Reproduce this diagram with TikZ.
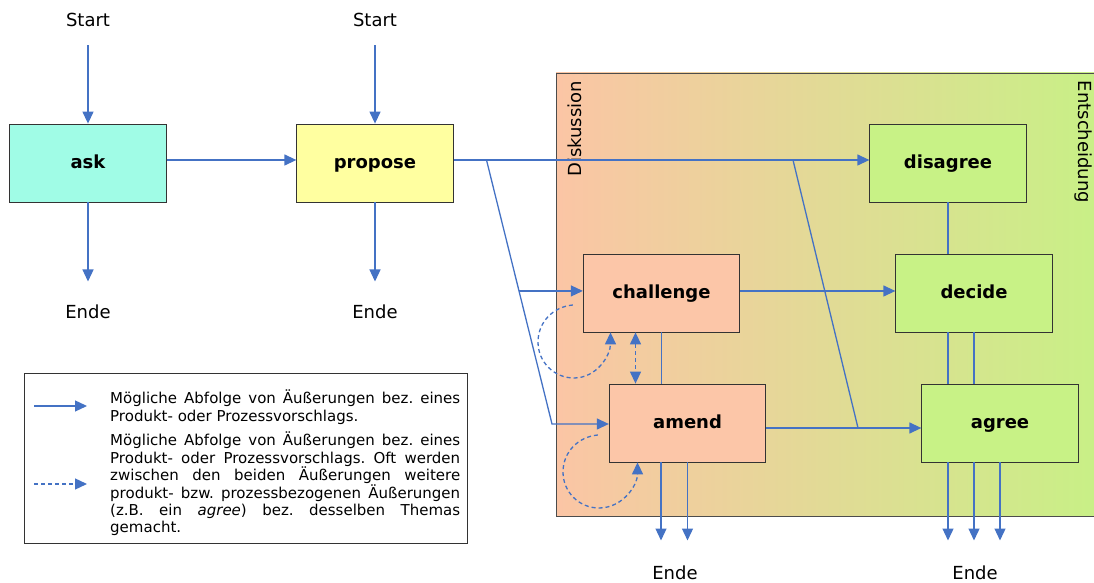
\documentclass[tikz,border=0pt]{standalone}
\usepackage{fontspec}
\setmainfont{DejaVu Sans}
\usetikzlibrary{arrows.meta,calc}
\definecolor{flowblue}{RGB}{68,114,196}
\definecolor{askfill}{RGB}{160,252,230}
\definecolor{propfill}{RGB}{255,255,160}
\definecolor{diskfill}{RGB}{252,198,168}
\definecolor{entsfill}{RGB}{200,242,134}
\definecolor{panelleft}{RGB}{251,197,165}
\definecolor{panelright}{RGB}{200,240,134}
\frenchspacing

\begin{document}
\begin{tikzpicture}[x=1pt,y=1pt,
  box/.style={draw=black!80, line width=0.8pt, minimum width=156.5pt, minimum height=78pt, inner sep=0pt, text height=13pt, text depth=1pt, font=\fontsize{18}{20}\selectfont\bfseries},
  lbl/.style={font=\fontsize{18}{20}\selectfont},
  legtxt/.style={text width=350pt, align=justify, inner sep=0pt, font=\fontsize{15}{17.4}\selectfont},
  flow/.style={draw=flowblue, line width=1.3pt, -{Triangle[length=12pt,width=11pt]}},
  link/.style={draw=flowblue, line width=1.3pt},
  dashflow/.style={flow, dash pattern=on 4pt off 3pt}]
\useasboundingbox (0,0) rectangle (1094,583);

\shade[left color=panelleft, right color=panelright] (556,67) rectangle (1100,510);
\draw[black!70, line width=0.8pt] (1100,67) -- (556,67) -- (556,510) -- (1100,510);
\node[lbl, rotate=90] (disk) at (575,454) {Diskussion};
\node[lbl, rotate=-90] (ents) at (1083,441) {Entscheidung};

\node[box, fill=askfill] (ask) at (88,420) {ask};
\node[box, fill=propfill] (propose) at (375,420) {propose};
\node[box, fill=entsfill] (disagree) at (948,420) {disagree};
\node[box, fill=diskfill] (challenge) at (661.5,290) {challenge};
\node[box, fill=entsfill] (decide) at (974,290) {decide};
\node[box, fill=diskfill] (amend) at (687.5,160) {amend};
\node[box, fill=entsfill] (agree) at (1000,160) {agree};

\node[lbl] (start1) at (88,563) {Start};
\node[lbl] (start2) at (375,563) {Start};
\node[lbl] (ende1) at (88,271) {Ende};
\node[lbl] (ende2) at (375,271) {Ende};
\node[lbl] (ende3) at (675,10) {Ende};
\node[lbl] (ende4) at (975,10) {Ende};
\coordinate (e3) at ([yshift=22pt]ende3.north);
\coordinate (e4) at ([yshift=22pt]ende4.north);

\draw[flow] ([yshift=-15pt]start1.south) -- (ask.north);
\draw[flow] ([yshift=-15pt]start2.south) -- (propose.north);
\draw[flow] (ask.south) -- ([yshift=20pt]ende1.north);
\draw[flow] (propose.south) -- ([yshift=20pt]ende2.north);

\coordinate (p1) at (486.5,423);
\coordinate (p2) at (552,159);
\coordinate (b1) at ($(p1)!0.496!(p2)$);
\coordinate (x1) at (793,423);
\coordinate (x2) at (858,155);
\draw[flow] ([yshift=3pt]ask.east) -- ([yshift=3pt]propose.west);
\draw[flow] ([yshift=3pt]propose.east) -- ([yshift=3pt]disagree.west);
\draw[flow] (p1) -- (p2) -- (amend.west |- p2);
\draw[flow] (b1) -- (challenge.west |- b1);
\draw[flow] ([yshift=2pt]challenge.east) -- ([yshift=2pt]decide.west);
\draw[flow] ([yshift=-5pt]amend.east) -- ([yshift=-5pt]agree.west);
\draw[link] (x1) -- (x2);

\draw[link] (disagree.south) -- (disagree.south |- decide.north);
\draw[link] ([xshift=-26pt]decide.south) -- ([xshift=-26pt]decide.south |- agree.north);
\draw[link] (decide.south) -- (decide.south |- agree.north);
\draw[link] (challenge.south) -- (challenge.south |- amend.north);
\draw[dashflow, {Triangle[length=12pt,width=11pt]}-{Triangle[length=12pt,width=11pt]}] ([xshift=-26pt]challenge.south) -- ([xshift=-26pt]challenge.south |- amend.north);

\draw[dashflow] ([xshift=-10pt,yshift=-12pt]challenge.west) to[out=185,in=90] (538,241) to[out=270,in=180] (574,205) to[out=0,in=-90] ([xshift=-51pt]challenge.south);
\draw[dashflow] ([xshift=-11pt,yshift=-12pt]amend.west) to[out=185,in=90] (563,111) to[out=270,in=180] (599,75) to[out=0,in=-90] ([xshift=-50pt]amend.south);

\draw[flow] ([xshift=-26.5pt]amend.south) -- ([xshift=-26.5pt]amend.south |- e3);
\draw[flow] (amend.south) -- (amend.south |- e3);
\draw[flow] ([xshift=-52pt]agree.south) -- ([xshift=-52pt]agree.south |- e4);
\draw[flow] ([xshift=-26pt]agree.south) -- ([xshift=-26pt]agree.south |- e4);
\draw[flow] (agree.south) -- (agree.south |- e4);

\node[draw=black!80, line width=0.8pt, minimum width=443pt, minimum height=170pt, inner sep=0pt] (legend) at (245.5,125) {};
\draw[flow] (34,177) -- (87,177);
\draw[dashflow] (34,99) -- (87,99);
\node[legtxt, anchor=north west] (leg1) at (110,193) {M\"ogliche Abfolge von \"Au\ss erungen bez. eines\linebreak Produkt- oder Prozessvorschlags.};
\node[legtxt, anchor=north west] (leg2) at (110,151) {M\"ogliche Abfolge von \"Au\ss erungen bez. eines\linebreak Produkt- oder Prozessvorschlags. Oft werden\linebreak zwischen den beiden \"Au\ss erungen weitere\linebreak produkt- bzw. prozessbezogenen \"Au\ss erungen\linebreak (z.B. ein \textit{agree}) bez. desselben Themas\linebreak gemacht.};
\end{tikzpicture}
\end{document}
